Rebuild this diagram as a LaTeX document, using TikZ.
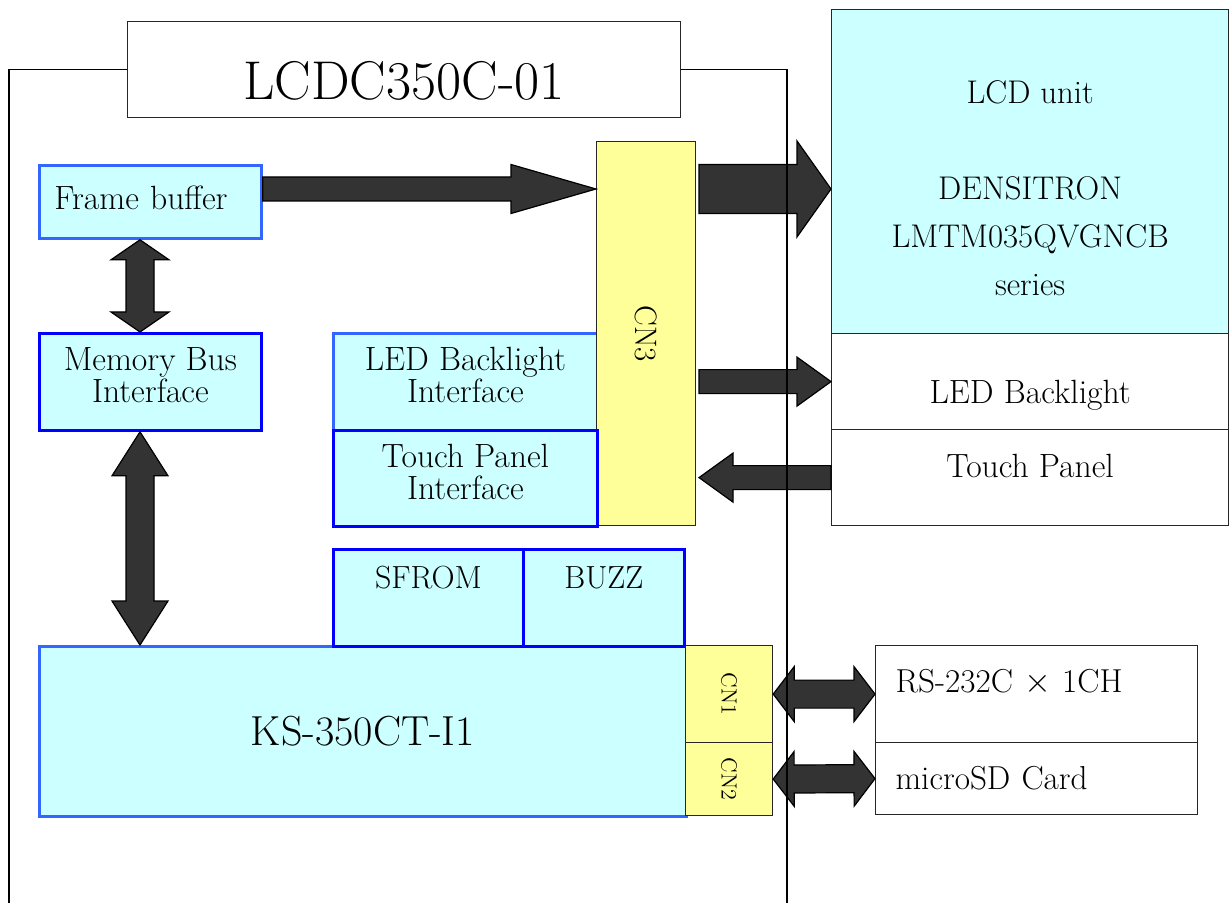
\documentclass[tikz,border=0pt]{standalone}
\usetikzlibrary{calc}
\definecolor{cellcyan}{HTML}{CCFFFF}
\definecolor{conyellow}{HTML}{FFFF99}
\definecolor{arrowgray}{HTML}{333333}
\definecolor{lightblue}{HTML}{3366FF}
\definecolor{deepblue}{HTML}{0000FF}
\tikzset{
  unit/.style={draw=black!85, line width=0.6pt, rectangle, inner sep=0pt, anchor=north west,
    align=center, font=\fontsize{16.8}{16}\selectfont},
  block/.style={unit, fill=cellcyan, draw=#1, line width=1.4pt},
  twoline/.style={execute at end node={\rule[-7pt]{0pt}{7pt}}},
  conn/.style={unit, fill=conyellow},
  fat/.style={fill=arrowgray, draw=black, line width=0.6pt, line join=miter}
}
% block arrows: from, to, shaft half width, head half width, head length
\newcommand\fatarrow[5]{%
  \coordinate (hb) at ($(#2)!#5!(#1)$);
  \draw[fat] ($(#1)!#3!90:(#2)$) -- ($(hb)!#3!90:(#2)$) -- ($(hb)!#4!90:(#2)$) -- (#2)
    -- ($(hb)!#4!-90:(#2)$) -- ($(hb)!#3!-90:(#2)$) -- ($(#1)!#3!-90:(#2)$) -- cycle;}
\newcommand\fatdarrow[5]{%
  \coordinate (ha) at ($(#1)!#5!(#2)$);
  \coordinate (hb) at ($(#2)!#5!(#1)$);
  \draw[fat] (#1) -- ($(ha)!#4!90:(#2)$) -- ($(ha)!#3!90:(#2)$) -- ($(hb)!#3!90:(#2)$)
    -- ($(hb)!#4!90:(#2)$) -- (#2) -- ($(hb)!#4!-90:(#2)$) -- ($(hb)!#3!-90:(#2)$)
    -- ($(ha)!#3!-90:(#2)$) -- ($(ha)!#4!-90:(#2)$) -- cycle;}
\begin{document}
\begin{tikzpicture}[x=0.5pt,y=-0.5pt]
\useasboundingbox (0,0) rectangle (1230,903);
\node[unit, fill=white, minimum width=276.5pt, minimum height=48pt, font=\fontsize{27.3}{30}\selectfont,
  text height=29.6pt, text depth=0pt] (title) at (127,21) {LCDC350C-01};
\node[block=lightblue, minimum width=111pt, minimum height=36.5pt, inner xsep=7.5pt, text width=96pt,
  align=left, text height=10pt, text depth=2pt] (fb) at (38,164) {Frame buffer};
\node[block=deepblue, twoline, minimum width=111pt, minimum height=48.5pt] (mem) at (38,332) {Memory Bus\\Interface};
\node[block=lightblue, twoline, minimum width=132pt, minimum height=48.5pt] (ledif) at (332,332) {LED Backlight\\Interface};
\node[conn, minimum width=49.5pt, minimum height=192pt, font=\fontsize{15.5}{18}\selectfont] (cn3) at (596,141) {\rotatebox{-90}{CN3}};
\node[block=deepblue, twoline, minimum width=132pt, minimum height=48pt] (tpif) at (332,429) {Touch Panel\\Interface};
\node[block=lightblue, minimum width=323.5pt, minimum height=85pt, font=\fontsize{21}{24}\selectfont] (ks) at (38,645) {KS-350CT-I1};
\node[block=deepblue, minimum width=95pt, minimum height=48.5pt, font=\fontsize{16}{16}\selectfont,
  text height=0pt, text depth=9.6pt] (sfrom) at (332,548) {SFROM};
\node[block=deepblue, minimum width=80.5pt, minimum height=48.5pt, font=\fontsize{16}{16}\selectfont,
  text height=0pt, text depth=9.6pt] (buzz) at (522,548) {BUZZ};
\node[conn, minimum width=43.5pt, minimum height=48.5pt, font=\fontsize{11}{13}\selectfont] (cn1) at (685,645) {\rotatebox{-90}{CN1}};
\node[conn, minimum width=43.5pt, minimum height=36.5pt, font=\fontsize{11}{13}\selectfont] (cn2) at (685,742) {\rotatebox{-90}{CN2}};
\node[unit, fill=cellcyan, minimum width=198.5pt, minimum height=162pt, font=\fontsize{16.4}{24}\selectfont] (lcd) at (831,9)
  {\rule{0pt}{28.5pt}LCD unit\\[24pt]DENSITRON\\LMTM035QVGNCB\\series};
\node[unit, minimum width=198.5pt, minimum height=48pt, text height=21.5pt, text depth=0pt] (ledbl) at (831,333) {LED Backlight};
\node[unit, minimum width=198.5pt, minimum height=48pt, text height=4pt, text depth=4.5pt] (tp) at (831,429) {Touch Panel};
\node[unit, minimum width=161pt, minimum height=48.5pt, inner xsep=10pt, text width=141pt, align=left,
  font=\fontsize{16.6}{16}\selectfont, text height=4pt, text depth=5.2pt] (rs) at (875,645) {RS-232C $\times$ 1CH};
\node[unit, minimum width=161pt, minimum height=36pt, inner xsep=10pt, text width=141pt, align=left,
  font=\fontsize{16.6}{16}\selectfont] (sd) at (875,742) {microSD Card};

\coordinate (bus) at (140,0);
\coordinate (fbtip) at ($(cn3.north west)+(0,48)$);
\coordinate (fbout) at (fb.east |- fbtip);
\coordinate (lcdin) at (lcd.west |- fbtip);
\coordinate (lcdout) at ($(lcdin)+(-132,0)$);
\coordinate (ledout) at ($(ledbl.west)+(-132,0)$);
\coordinate (tptip) at ($(tp.west)+(-132,0)$);
\coordinate (fbbot) at (fb.south -| bus);
\coordinate (memtop) at (mem.north -| bus);
\coordinate (membot) at (mem.south -| bus);
\coordinate (kstop) at (ks.north -| bus);

\fatarrow{fbout}{fbtip}{6pt}{12.25pt}{42.5pt}
\fatarrow{lcdout}{lcdin}{12.25pt}{24pt}{17pt}
\fatarrow{ledout}{ledbl.west}{6pt}{12.25pt}{17pt}
\fatarrow{tp.west}{tptip}{6pt}{12.25pt}{17pt}
\fatdarrow{fbbot}{memtop}{7pt}{14.5pt}{10pt}
\fatdarrow{membot}{kstop}{7pt}{14pt}{22pt}
\fatdarrow{cn1.east}{rs.west}{7pt}{13.75pt}{10.5pt}
\fatdarrow{cn2.east}{sd.west}{7pt}{13.75pt}{10.5pt}

\draw[line width=0.6pt] (title.west) -| (9,903);
\draw[line width=0.6pt] (title.east) -| (787,903);
\end{tikzpicture}
\end{document}
